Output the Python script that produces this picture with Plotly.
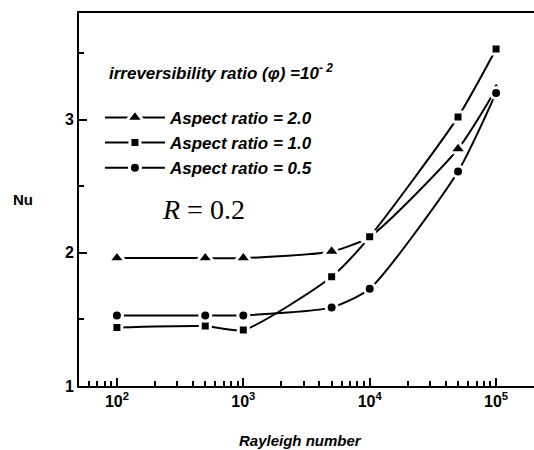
import plotly.graph_objects as go

# Rayleigh numbers
ra = [1e2, 5e2, 1e3, 5e3, 1e4, 5e4, 1e5]

# Nusselt numbers
nu_ar20 = [1.96, 1.96, 1.96, 2.01, 2.12, 2.78, 3.23]
nu_ar10 = [1.44, 1.45, 1.42, 1.82, 2.12, 3.02, 3.53]
nu_ar05 = [1.53, 1.53, 1.53, 1.59, 1.73, 2.61, 3.20]

names = ["Aspect ratio = 2.0", "Aspect ratio = 1.0", "Aspect ratio = 0.5"]
symbols = ["triangle-up", "square", "circle"]
sizes = [15, 10, 11]

x_major = [1e2, 1e3, 1e4, 1e5]
x_major_text = ["10<sup>2</sup>", "10<sup>3</sup>", "10<sup>4</sup>", "10<sup>5</sup>"]
x_minor = [m * 10 ** k for k in range(1, 6) for m in range(2, 10)]

font = "Liberation Sans, Arial, sans-serif"

fig = go.Figure()
for name, sym, sz, y in zip(names, symbols, sizes, [nu_ar20, nu_ar10, nu_ar05]):
    fig.add_trace(go.Scatter(
        x=ra, y=y, name=name,
        mode="lines+markers",
        line=dict(color="black", width=2, shape="spline", smoothing=0.6),
        marker=dict(symbol=sym, size=sz, color="black",
                    line=dict(color="white", width=3)),
    ))

fig.add_annotation(
    x=0.062, y=0.842, xref="paper", yref="paper", xanchor="left", yanchor="middle",
    text="<b><i>irreversibility ratio (φ) =10<sup>- 2</sup></i></b>",
    showarrow=False, font=dict(family=font, size=17, color="black"),
)
fig.add_annotation(
    x=0.178, y=0.474, xref="paper", yref="paper", xanchor="left", yanchor="middle",
    text="<i>R</i> = 0.2",
    showarrow=False, font=dict(family="Liberation Serif, Times New Roman, serif", size=28, color="black"),
)
fig.add_annotation(
    x=-0.122, y=0.499, xref="paper", yref="paper", xanchor="center", yanchor="middle",
    text="<b>Nu</b>", showarrow=False,
    font=dict(family=font, size=15, color="black"),
)
fig.add_annotation(
    x=0.486, y=-0.145, xref="paper", yref="paper", xanchor="center", yanchor="middle",
    text="<b><i>Rayleigh number</i></b>", showarrow=False,
    font=dict(family=font, size=15, color="black"),
)

fig.update_layout(
    width=534, height=450,
    paper_bgcolor="white", plot_bgcolor="white",
    margin=dict(l=79, r=0, t=13, b=64, autoexpand=False),
    showlegend=True,
    legend=dict(
        x=0.046, y=0.767, xanchor="left", yanchor="top",
        bgcolor="rgba(0,0,0,0)", tracegroupgap=0, itemwidth=60,
        font=dict(family=font, size=17, color="black", weight="bold", style="italic"),
    ),
    font=dict(family=font, color="black"),
)
fig.update_xaxes(
    type="log", range=[1.70, 5.30], automargin=False,
    tickvals=x_major, ticktext=x_major_text,
    ticks="inside", ticklen=8, tickwidth=1.5, tickcolor="black",
    minor=dict(tickvals=x_minor, ticks="inside", ticklen=5, tickwidth=1.5, tickcolor="black", showgrid=False),
    showline=True, linewidth=2, linecolor="black", mirror=True,
    showgrid=False, zeroline=False,
    tickfont=dict(family=font, size=16, color="black", weight="bold"),
)
fig.update_yaxes(
    range=[1.0, 3.80], automargin=False,
    tickvals=[1, 2, 3], ticktext=["1", "2", "3"],
    ticks="inside", ticklen=8, tickwidth=1.5, tickcolor="black",
    minor=dict(tickvals=[1.5, 2.5, 3.5], ticks="inside", ticklen=5, tickwidth=1.5, tickcolor="black", showgrid=False),
    showline=True, linewidth=2, linecolor="black", mirror=False,
    showgrid=False, zeroline=False,
    tickfont=dict(family=font, size=16, color="black", weight="bold"),
)

# drop the default page margin so the 534x450 figure fills the window exactly
fig.write_html("out.html", config={"displayModeBar": False},
               post_script="document.body.style.margin='0';")
